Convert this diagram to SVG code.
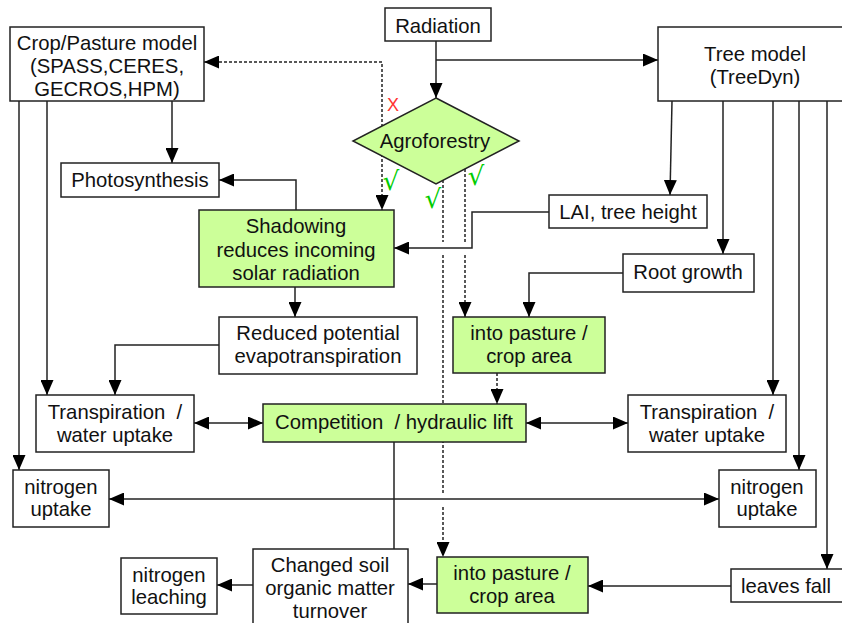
<svg xmlns="http://www.w3.org/2000/svg" width="842" height="623" viewBox="0 0 842 623">
<style>
.box{fill:#fff;stroke:#222;stroke-width:1.5}
.grn{fill:#ccff99;stroke:#222;stroke-width:1.5}
.t{font-family:"Liberation Sans",Arial,sans-serif;font-size:20.3px;fill:#111;text-anchor:middle}
.c{fill:none;stroke:#222;stroke-width:1.5}
.d{fill:none;stroke:#222;stroke-width:1.5;stroke-dasharray:3,2}
.a{marker-end:url(#ah)}
.b{marker-start:url(#ah);marker-end:url(#ah)}
.ok{font-family:"DejaVu Sans",sans-serif;font-size:26px;fill:#00cc00;text-anchor:middle}
.no{font-family:"Liberation Sans",Arial,sans-serif;font-size:18px;fill:#ff3333;text-anchor:middle}
</style>
<defs>
<marker id="ah" markerWidth="15" markerHeight="13" refX="15" refY="6.5" orient="auto-start-reverse" markerUnits="userSpaceOnUse">
<path d="M0,0 L15,6.5 L0,13 z" fill="#000"/>
</marker>
</defs>
<rect width="842" height="623" fill="#fff"/>
<g id="connectors">
<path class="c a" d="M436,41 V98"/>
<path class="c a" d="M436,60 H658"/>
<path class="d b" d="M204,62 H382 V210"/>
<path class="c a" d="M172,101 V163"/>
<path class="c a" d="M296,210 V180 H219"/>
<path class="d" d="M443,180 V242"/>
<path class="d" d="M443,255 V495"/>
<path class="d a" d="M443,507 V557"/>
<path class="d" d="M465,169 V242"/>
<path class="d a" d="M465,255 V317"/>
<path class="c a" d="M549,212 H472 V248 H394"/>
<path class="c a" d="M672,101 L670,195"/>
<path class="c a" d="M723,101 V254"/>
<path class="c a" d="M623,273 H529 V317"/>
<path class="d a" d="M497,373 V404"/>
<path class="c a" d="M295,287 V317"/>
<path class="c a" d="M219,345 H115 V395"/>
<path class="c a" d="M47,101 V395"/>
<path class="c a" d="M19,101 V470"/>
<path class="c b" d="M194,423 H263"/>
<path class="c b" d="M526,423 H628"/>
<path class="c b" d="M109,499 H719"/>
<path class="c a" d="M773,101 V395"/>
<path class="c a" d="M799,101 V470"/>
<path class="c a" d="M827,101 V569"/>
<path class="c a" d="M731,586 H588"/>
<path class="c a" d="M437,584 H408"/>
<path class="c" d="M394,442 V549"/>
<path class="c a" d="M253,585 H217"/>
<text class="no" x="393" y="111">X</text>
<text class="ok" x="391" y="190">√</text>
<text class="ok" x="433" y="208">√</text>
<text class="ok" x="476" y="185">√</text>
</g>
<g id="radiation"><rect class="box" x="385" y="8" width="106" height="33"/><text class="t" x="438" y="33">Radiation</text></g>
<g id="crop-model"><rect class="box" x="10" y="27" width="194" height="74"/><text class="t" x="107" y="50">Crop/Pasture model</text><text class="t" x="107" y="73">(SPASS,CERES,</text><text class="t" x="107" y="96">GECROS,HPM)</text></g>
<g id="tree-model"><rect class="box" x="658" y="27" width="192" height="74"/><text class="t" x="755" y="61">Tree model</text><text class="t" x="755" y="84">(TreeDyn)</text></g>
<g id="agroforestry"><polygon class="grn" points="436,98 519,141 436,184 353,141"/><text class="t" x="435" y="148">Agroforestry</text></g>
<g id="photosynthesis"><rect class="box" x="61" y="163" width="158" height="34"/><text class="t" x="140" y="187">Photosynthesis</text></g>
<g id="shadowing"><rect class="grn" x="199" y="210" width="195" height="77"/><text class="t" x="296" y="233">Shadowing</text><text class="t" x="296" y="257">reduces incoming</text><text class="t" x="296" y="280">solar radiation</text></g>
<g id="lai"><rect class="box" x="549" y="195" width="158" height="33"/><text class="t" x="628" y="219">LAI, tree height</text></g>
<g id="root-growth"><rect class="box" x="623" y="254" width="131" height="38"/><text class="t" x="688" y="279">Root growth</text></g>
<g id="into-pasture-top"><rect class="grn" x="453" y="317" width="152" height="56"/><text class="t" x="529" y="340">into pasture /</text><text class="t" x="529" y="363">crop area</text></g>
<g id="reduced-pet"><rect class="box" x="219" y="317" width="198" height="57"/><text class="t" x="318" y="340">Reduced potential</text><text class="t" x="318" y="363">evapotranspiration</text></g>
<g id="transpiration-crop"><rect class="box" x="36" y="395" width="158" height="57"/><text class="t" x="115" y="419" xml:space="preserve">Transpiration  /</text><text class="t" x="115" y="442">water uptake</text></g>
<g id="competition"><rect class="grn" x="263" y="404" width="263" height="38"/><text class="t" x="394" y="429" xml:space="preserve">Competition  / hydraulic lift</text></g>
<g id="transpiration-tree"><rect class="box" x="628" y="395" width="158" height="57"/><text class="t" x="707" y="419" xml:space="preserve">Transpiration  /</text><text class="t" x="707" y="442">water uptake</text></g>
<g id="nitrogen-crop"><rect class="box" x="13" y="470" width="96" height="57"/><text class="t" x="61" y="494">nitrogen</text><text class="t" x="61" y="516">uptake</text></g>
<g id="nitrogen-tree"><rect class="box" x="719" y="470" width="97" height="57"/><text class="t" x="767" y="494">nitrogen</text><text class="t" x="767" y="516">uptake</text></g>
<g id="leaves-fall"><rect class="box" x="731" y="569" width="125" height="33"/><text class="t" x="786" y="593">leaves fall</text></g>
<g id="into-pasture-bottom"><rect class="grn" x="437" y="557" width="151" height="56"/><text class="t" x="512" y="580">into pasture /</text><text class="t" x="512" y="603">crop area</text></g>
<g id="changed-soil"><rect class="box" x="253" y="549" width="155" height="84"/><text class="t" x="330" y="572">Changed soil</text><text class="t" x="330" y="595">organic matter</text><text class="t" x="330" y="618">turnover</text></g>
<g id="nitrogen-leaching"><rect class="box" x="121" y="558" width="96" height="56"/><text class="t" x="169" y="582">nitrogen</text><text class="t" x="169" y="604">leaching</text></g>
</svg>
